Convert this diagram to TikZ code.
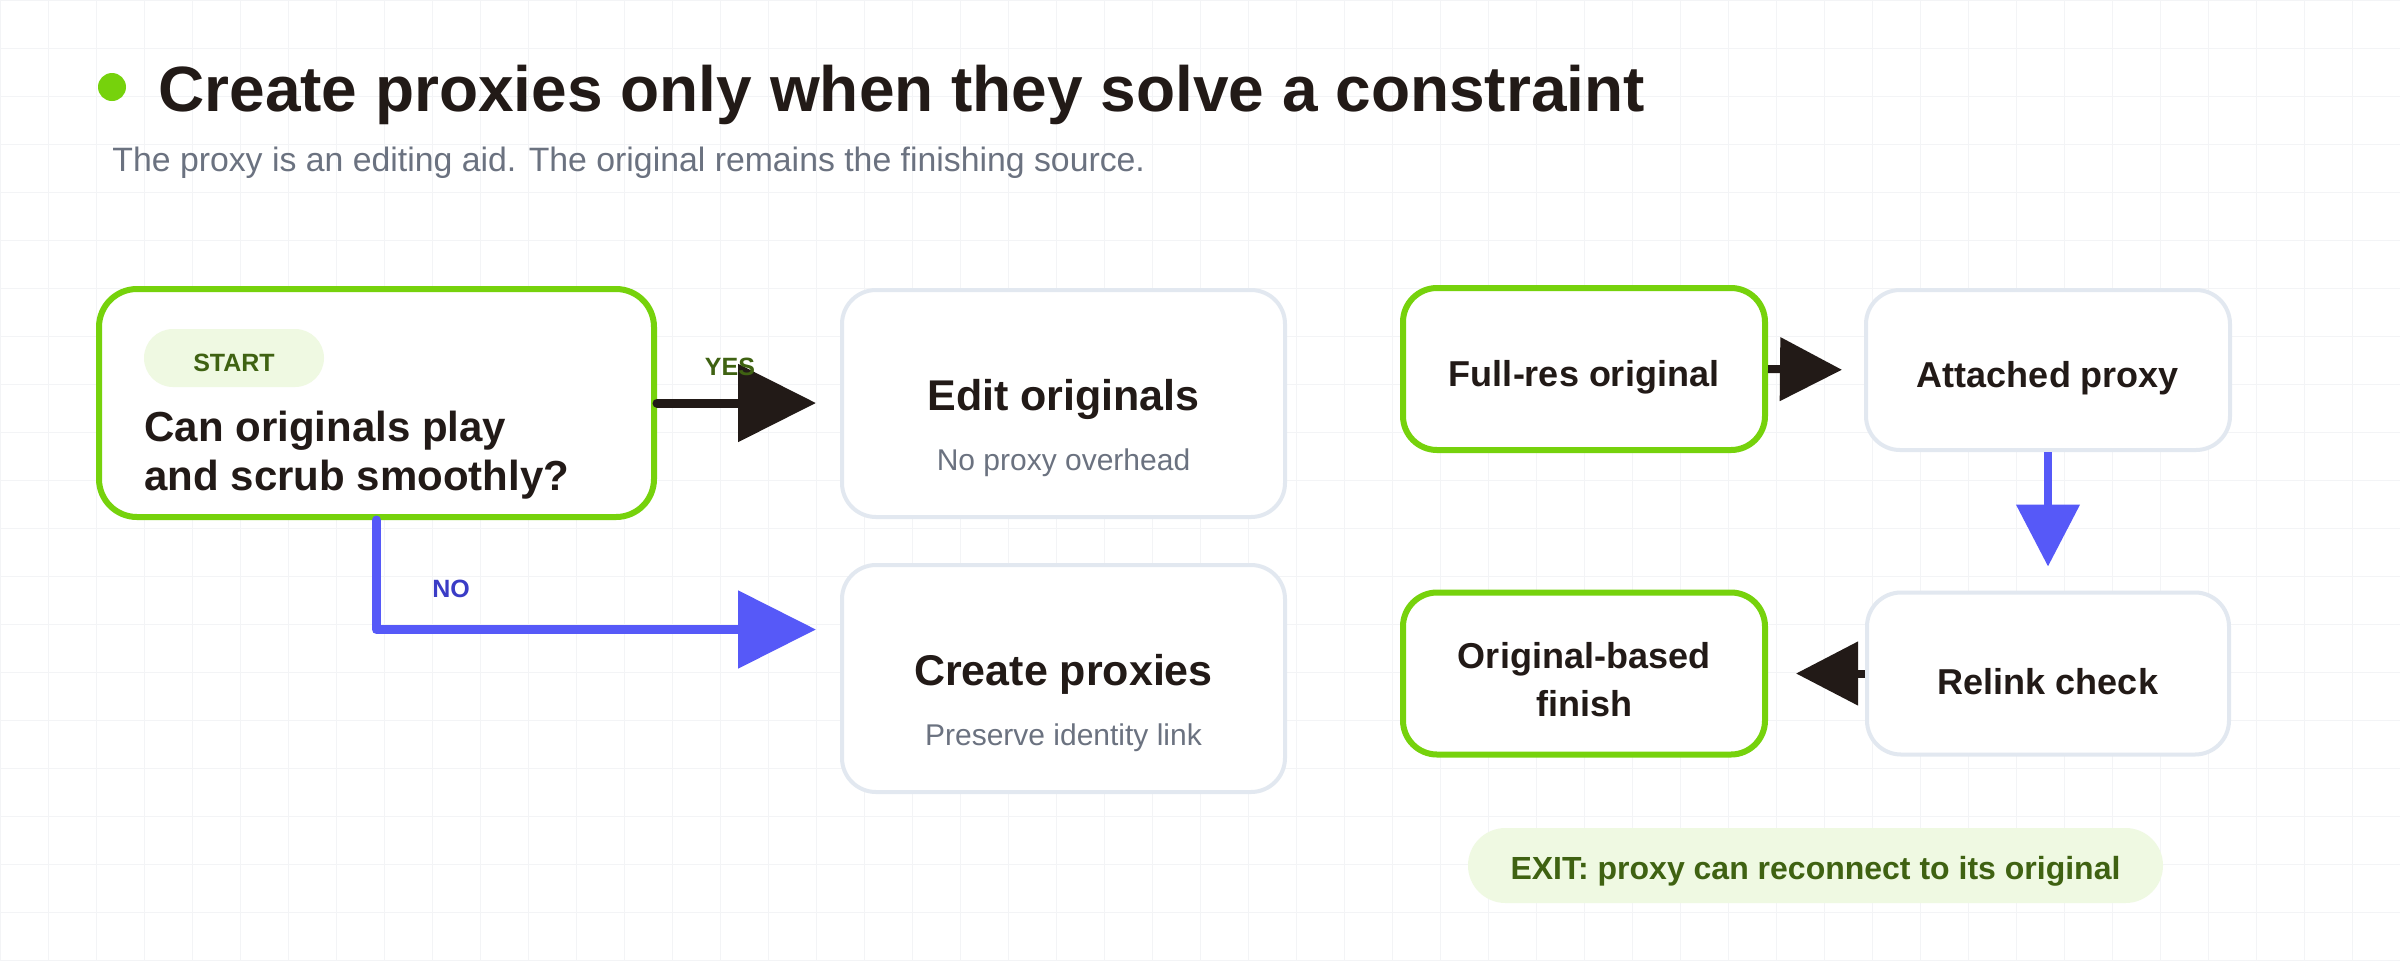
\documentclass[tikz,border=0pt]{standalone}
\usepackage{fontspec}
\setmainfont{Liberation Sans}
\usepackage{xcolor}
\usetikzlibrary{positioning, calc, arrows.meta}
\definecolor{ink}{HTML}{221A17}
\definecolor{mutedgrey}{HTML}{6B7280}
\definecolor{limegreen}{HTML}{76D20C}
\definecolor{pillgreen}{HTML}{EFF9E2}
\definecolor{darkgreen}{HTML}{3F6212}
\definecolor{slateline}{HTML}{E2E8F0}
\definecolor{flowblue}{HTML}{5659F8}
\definecolor{nolabel}{HTML}{3A3CC6}
\definecolor{gridgrey}{HTML}{F3F4F6}
\tikzset{gridline/.style={draw=gridgrey, line width=0.5pt}}
\tikzset{box/.style={fill=white, rounded corners=17pt, minimum width=181pt, minimum height=81pt, inner sep=0pt}}
\tikzset{greenbox/.style={box, draw=limegreen, line width=3pt}}
\tikzset{greybox/.style={box, draw=slateline, line width=2pt}}
\tikzset{widebox/.style={greybox, minimum width=221.5pt, minimum height=113.5pt}}
\tikzset{boxtext/.style={inner sep=0pt, align=center, text=ink, font=\fontsize{18}{24}\selectfont\bfseries}}
\tikzset{pill/.style={fill=pillgreen, rounded corners=14.5pt, inner sep=0pt, text=darkgreen, font=\fontsize{12.5}{15}\selectfont\bfseries}}
\tikzset{bigtitle/.style={inner sep=0pt, text=ink, font=\fontsize{21.5}{26}\selectfont\bfseries}}
\tikzset{subnote/.style={inner sep=0pt, text=mutedgrey, font=\fontsize{15}{18}\selectfont}}
\tikzset{yesno/.style={inner sep=0pt, font=\fontsize{12.5}{15}\selectfont\bfseries}}
\tikzset{darkarrow/.style={draw=ink, line width=4.5pt, line cap=round, -{Triangle[length=39pt, width=38pt]}, shorten >=12pt}}
\tikzset{bluearrow/.style={darkarrow, draw=flowblue, line join=round}}
\tikzset{darkstub/.style={draw=ink, line width=4pt, -{Triangle[length=31pt, width=31pt]}}}
\tikzset{bluestub/.style={darkstub, draw=flowblue}}

\begin{document}
\begin{tikzpicture}[x=0.5pt, y=-0.5pt]
  \useasboundingbox[fill=white] (0,0) rectangle (2400,960);
  \foreach \gx in {0,48,...,2400} \draw[gridline] (\gx,0) -- (\gx,960);
  \foreach \gy in {0,48,...,960} \draw[gridline] (0,\gy) -- (2400,\gy);

  \node[circle, fill=limegreen, minimum size=14pt, inner sep=0pt] (dot) at (112,87) {};
  \node[anchor=base west, inner sep=0pt, text=ink, font=\fontsize{32}{38}\selectfont\bfseries] (title) at (158,111) {Create proxies only when they solve a constraint};
  \node[anchor=base west, inner sep=0pt, text=mutedgrey, font=\fontsize{16.9}{20}\selectfont] (subtitle) at (112,171) {The proxy is an editing aid. The original remains the finishing source.};

  \node[greenbox, minimum width=277.5pt, minimum height=114pt, rounded corners=19pt] (start) at (376.5,403) {};
  \node[pill, minimum width=90pt, minimum height=29pt, text height=13pt, text depth=0pt] (startpill) at (234,358) {START};
  \node[anchor=west, inner sep=0pt, align=left, text=ink, font=\fontsize{21}{24.5}\selectfont\bfseries] (question) at (144,455) {Can originals play\\and scrub smoothly?};

  \node[widebox] (edit) at (1063.5,403.5) {};
  \node[bigtitle] (edittitle) at ($(edit)+(0,-4)$) {Edit originals};
  \node[subnote] (editsub) at ($(edit)+(0,59)$) {No proxy overhead};

  \node[widebox] (create) at (1063.5,678.5) {};
  \node[bigtitle] (createtitle) at ($(create)+(0,-4)$) {Create proxies};
  \node[subnote] (createsub) at ($(create)+(0,59)$) {Preserve identity link};

  \node[greenbox] (fullres) at (1584,369) {};
  \node[boxtext] (fullrestext) at ($(fullres)+(0,8)$) {Full-res original};
  \node[greybox, minimum width=182pt, minimum height=80pt] (attached) at (2048,370) {};
  \node[boxtext] (attachedtext) at ($(attached)+(0,8)$) {Attached proxy};
  \node[greybox] (relink) at (2048,673.5) {};
  \node[boxtext] (relinktext) at ($(relink)+(0,8)$) {Relink check};
  \node[greenbox] (finish) at (1584,673.5) {};
  \node[boxtext] (finishtext) at ($(finish)+(0,6)$) {Original-based\\finish};

  \draw[darkarrow] (start.east) -- (start.east -| edit.west);
  \node[yesno, text=darkgreen] (yes) at (730,367) {YES};

  \coordinate (noend) at ($(create.west)+(0,-49)$);
  \draw[bluearrow] (start.south) |- (noend);
  \node[yesno, text=nolabel] (no) at (451,589) {NO};

  \draw[darkstub, shorten >=11pt] (fullres.east) -- (attached.west);
  \draw[bluestub, shorten >=12pt] (attached.south) -- (relink.north);
  \draw[darkstub, shorten >=14pt] (relink.west) -- (finish.east);

  \node[pill, minimum width=347.5pt, minimum height=37.5pt, rounded corners=18.75pt, text height=14.2pt, text depth=0pt, font=\fontsize{16}{19}\selectfont\bfseries] (exit) at (1815.5,865.5) {EXIT: proxy can reconnect to its original};
\end{tikzpicture}
\end{document}
